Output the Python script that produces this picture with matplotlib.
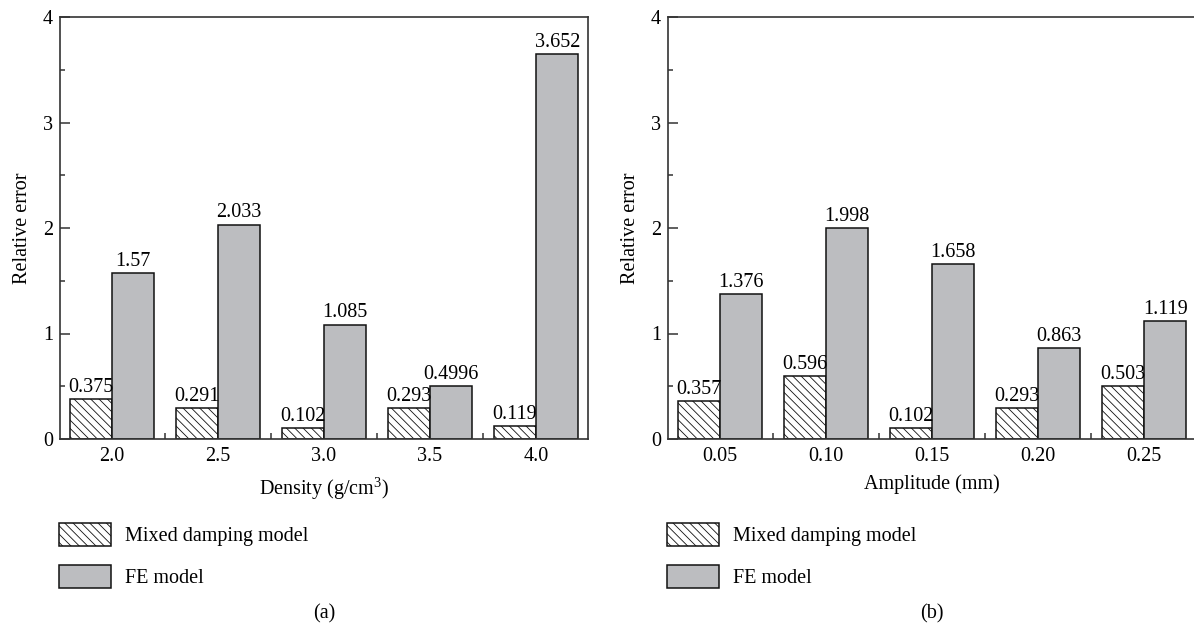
import numpy as np
import matplotlib
matplotlib.use("Agg")
import matplotlib.pyplot as plt
from matplotlib.ticker import MultipleLocator, FixedLocator

plt.rcParams["font.family"] = ["Liberation Serif", "DejaVu Serif"]
plt.rcParams["mathtext.fontset"] = "custom"
plt.rcParams["mathtext.rm"] = "Liberation Serif"
plt.rcParams["hatch.linewidth"] = 0.6
plt.rcParams["hatch.color"] = "#222222"

# panel (a): density sweep
density = ["2.0", "2.5", "3.0", "3.5", "4.0"]
mixed_density = [0.375, 0.291, 0.102, 0.293, 0.119]
fe_density = [1.57, 2.033, 1.085, 0.4996, 3.652]

# panel (b): amplitude sweep
amplitude = ["0.05", "0.10", "0.15", "0.20", "0.25"]
mixed_amp = [0.357, 0.596, 0.102, 0.293, 0.503]
fe_amp = [1.376, 1.998, 1.658, 0.863, 1.119]

W, H = 1194, 629
fig = plt.figure(figsize=(W / 100, H / 100), dpi=100)

fs = 14.5
spine_c = "#333333"
edge_c = "#111111"
grey = "#bcbdc0"
bw = 0.4


def panel(left_px, cats, mixed, fe, xlabel, tag):
    ax = fig.add_axes([left_px / W, (H - 439) / H, 528 / W, 422 / H])
    x = np.arange(len(cats))
    b1 = ax.bar(x - bw / 2, mixed, bw, facecolor="white", edgecolor=edge_c,
                hatch="\\\\\\\\", linewidth=1.1, label="Mixed damping model")
    b2 = ax.bar(x + bw / 2, fe, bw, facecolor=grey, edgecolor=edge_c,
                linewidth=1.1, label="FE model")
    for bars, vals in ((b1, mixed), (b2, fe)):
        for r, v in zip(bars, vals):
            ax.text(r.get_x() + r.get_width() / 2, v + 0.02, str(v),
                    ha="center", va="bottom", fontsize=fs)

    ax.set_xlim(-0.49, 4.49)
    ax.set_ylim(0, 4)
    ax.set_xticks(x)
    ax.set_xticklabels(cats)
    ax.xaxis.set_minor_locator(FixedLocator(x[:-1] + 0.5))
    ax.yaxis.set_major_locator(MultipleLocator(1))
    ax.yaxis.set_minor_locator(MultipleLocator(0.5))
    ax.tick_params(axis="x", which="major", length=0, pad=6, labelsize=fs)
    ax.tick_params(axis="x", which="minor", direction="in", length=4,
                   width=1.1, color=spine_c)
    ax.tick_params(axis="y", which="major", direction="in", length=7,
                   width=1.1, color=spine_c, pad=5, labelsize=fs)
    ax.tick_params(axis="y", which="minor", direction="in", length=3.5,
                   width=1.1, color=spine_c)
    for s in ax.spines.values():
        s.set_color(spine_c)
        s.set_linewidth(1.2)
    ax.set_xlabel(xlabel, fontsize=fs, labelpad=6)
    ax.set_ylabel("Relative error", fontsize=fs, labelpad=8)

    ax.legend(loc="upper left", bbox_to_anchor=((left_px - 1) / W, 1 - 523 / H),
              bbox_transform=fig.transFigure, frameon=False, fontsize=fs,
              handlelength=2.6, handleheight=1.35, handletextpad=0.7,
              labelspacing=0.95, borderpad=0, borderaxespad=0)
    fig.text((left_px + 264) / W, 1 - 614 / H, tag, ha="center", va="center",
             fontsize=fs)
    return ax


panel(60, density, mixed_density, fe_density,
      "Density (g/cm$^{\\mathregular{3}}$)", "(a)")
panel(668, amplitude, mixed_amp, fe_amp, "Amplitude (mm)", "(b)")

fig.savefig("out.png", dpi=100)
